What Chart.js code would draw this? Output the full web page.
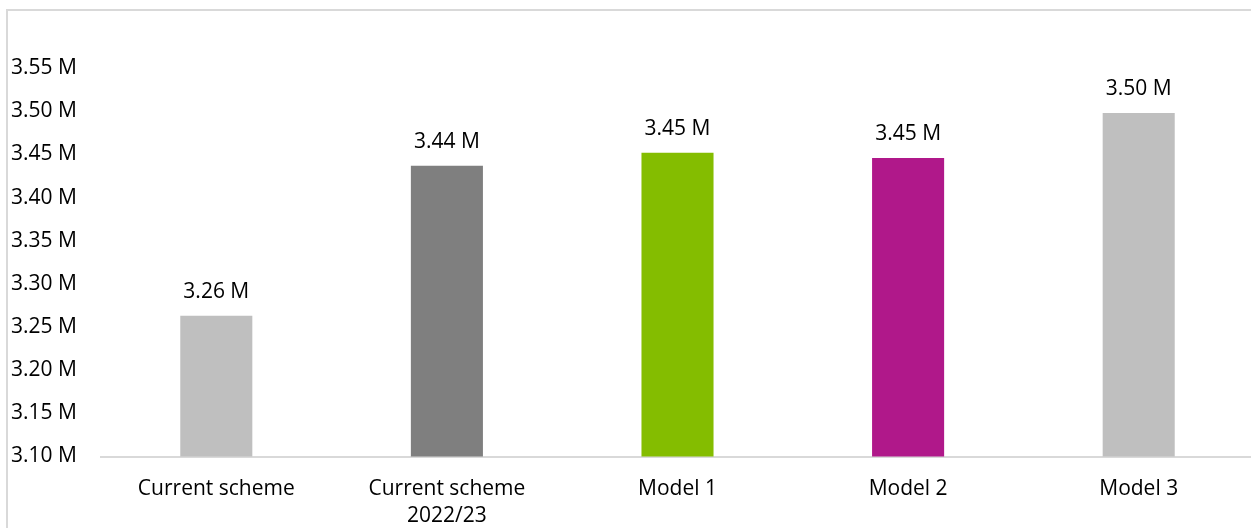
<!DOCTYPE html>
<html>
<head>
<meta charset="utf-8">
<script src="https://cdn.jsdelivr.net/npm/chart.js@4.4.1/dist/chart.umd.min.js"></script>
<style>
  html, body { margin: 0; padding: 0; background: #fff; overflow: hidden; width: 1251px; height: 528px; }
  #frame { position: absolute; left: 6px; top: 9px; width: 1300px; height: 600px; border: 2px solid #d9d9d9; box-sizing: border-box; }
  #chart { position: absolute; left: 0; top: 0; }
</style>
</head>
<body>
<div id="frame"></div>
<canvas id="chart" width="1262" height="528"></canvas>
<script>
const categories = [["Current scheme"], ["Current scheme", "2022/23"], ["Model 1"], ["Model 2"], ["Model 3"]];
const values = [3.263, 3.437, 3.452, 3.446, 3.498];
const barColors = ["#bfbfbf", "#7f7f7f", "#84bd00", "#b0188a", "#bfbfbf"];
const yMin = 3.10;
const yMax = 3.60;
const yStep = 0.05;

const fontFamily = "'Open Sans', sans-serif";

// value labels above each bar
const valueLabels = {
  id: "valueLabels",
  afterDatasetsDraw(chart) {
    const ctx = chart.ctx;
    const meta = chart.getDatasetMeta(0);
    ctx.save();
    ctx.font = "21px " + fontFamily;
    ctx.fillStyle = "#000";
    ctx.textAlign = "center";
    ctx.textBaseline = "alphabetic";
    meta.data.forEach((bar, i) => {
      ctx.fillText(values[i].toFixed(2) + " M", bar.x, bar.y - 18);
    });
    ctx.restore();
  }
};

const ctx = document.getElementById("chart").getContext("2d");
new Chart(ctx, {
  type: "bar",
  data: {
    labels: categories,
    datasets: [{
      data: values,
      backgroundColor: barColors,
      barPercentage: 0.3125,
      categoryPercentage: 1
    }]
  },
  options: {
    responsive: false,
    animation: false,
    devicePixelRatio: 1,
    layout: { padding: { top: 25, left: 11, right: 8, bottom: 0 } },
    plugins: {
      legend: { display: false },
      tooltip: { enabled: false }
    },
    scales: {
      x: {
        grid: { display: false, drawTicks: false },
        border: { display: true, color: "#d9d9d9", width: 2 },
        ticks: {
          color: "#000",
          font: { family: fontFamily, size: 21, lineHeight: 1.3 },
          padding: 19,
          maxRotation: 0,
          autoSkip: false
        },
        afterFit(scale) { scale.height = 71.5; }
      },
      y: {
        min: yMin,
        max: yMax,
        grid: { display: false, drawTicks: false },
        border: { display: false },
        ticks: {
          stepSize: yStep,
          color: "#000",
          font: { family: fontFamily, size: 21 },
          padding: 0,
          crossAlign: "far",
          callback(v) {
            if (v > 3.575) return null;
            return v.toFixed(2) + " M";
          }
        },
        afterFit(scale) { scale.width = 90; }
      }
    }
  },
  plugins: [valueLabels]
});
</script>
</body>
</html>
